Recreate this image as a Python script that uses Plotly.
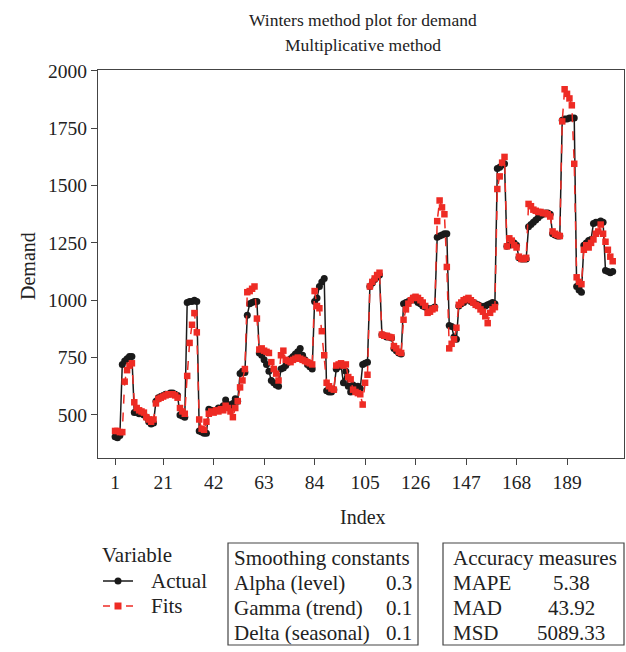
import plotly.graph_objects as go

# ---------------- data ----------------
actual = [
    405, 400, 410, 720, 735, 745, 755, 755,
    510, 510, 505, 505, 500, 490, 470, 460, 465,
    560, 575, 580, 585, 590, 590, 595, 595, 590, 585,
    500, 495, 490,
    990, 995, 995, 1000, 995,
    430, 425, 420, 420,
    525, 520, 515, 520, 530, 525, 540, 565, 545, 530, 550, 570, 560,
    680, 690, 685,
    935, 985, 990, 995, 995,
    770, 760, 740, 720, 690, 650, 640, 630, 625, 700, 705,
    715, 730, 745, 755, 765, 775, 790, 760, 740, 720, 710, 700,
    995, 1010, 1060, 1080, 1095,
    605, 600, 600, 610,
    700, 710, 715, 640, 690, 625, 600, 630, 620, 625, 615, 720, 725, 730,
    1060, 1075, 1090, 1100, 1110,
    850, 845, 840, 840, 835, 790, 780, 770, 765,
    985, 990, 995, 1000, 1010, 1000, 990, 985, 975, 970, 965, 960, 965, 970,
    1275, 1280, 1285, 1290, 1290,
    890, 885, 840, 830,
    975, 985, 990, 1000, 1005, 995, 990, 985, 980, 975, 970, 975, 980, 985, 990, 985,
    1575, 1580, 1590, 1595,
    1235, 1240, 1245, 1250, 1240, 1185, 1180, 1180, 1180,
    1320, 1330, 1340, 1350, 1360, 1370, 1375, 1380, 1380, 1375,
    1290, 1285, 1280, 1280,
    1785, 1790, 1790, 1795, 1795, 1795,
    1060, 1045, 1035,
    1240, 1250, 1260, 1265,
    1335, 1340, 1340, 1345, 1340,
    1130, 1125, 1120, 1125,
]

fits = [
    430, 430, 425, 425,
    645, 695, 715, 725,
    555, 530, 520, 515, 510, 490, 480, 470, 480,
    550, 570, 575, 580, 585, 590, 590, 590, 585, 575,
    530, 515, 505,
    670, 814, 893, 944, 860,
    480, 440, 435, 470,
    505, 515, 510, 520, 515, 525, 520, 540, 530, 515, 490, 530, 560,
    620, 650, 700,
    1035, 1040, 1050, 1060, 920,
    785, 790, 780, 775, 770, 730, 700, 680, 650, 760, 780,
    740, 735, 730, 740, 745, 750, 745, 740, 735, 730, 725, 720,
    1040, 975, 965, 865, 760,
    640, 625, 615, 610,
    715, 720, 725, 715, 720, 665, 655, 610, 600, 595, 590, 545, 640, 675,
    1060, 1080, 1095, 1110, 1120,
    850, 845, 845, 840, 838, 800, 790, 775, 770,
    915, 960, 985, 1000, 1010, 1015, 1010, 1000, 990, 975, 945, 950, 960, 965,
    1345, 1435, 1405, 1375, 1145,
    790, 810, 830, 880,
    980, 990, 1000, 1005, 1010, 1000, 990, 980, 975, 960, 950, 930, 900, 945, 960, 970,
    1485, 1540, 1600, 1625,
    1235, 1270, 1260, 1240, 1230, 1190, 1180, 1180, 1185,
    1420, 1410, 1395, 1390, 1385, 1385, 1380, 1380, 1375, 1365,
    1300, 1290, 1285, 1280,
    1780, 1920, 1900, 1880, 1850, 1595,
    1100, 1080, 1070,
    1220, 1240, 1230, 1250,
    1265, 1290, 1300, 1330, 1290,
    1255, 1220, 1190, 1170,
]

index = list(range(1, len(actual) + 1))
x_ticks = [1, 21, 42, 63, 84, 105, 126, 147, 168, 189]
y_ticks = [500, 750, 1000, 1250, 1500, 1750, 2000]

series_names = ["Actual", "Fits"]
smoothing_labels = ["Alpha (level)", "Gamma (trend)", "Delta (seasonal)"]
smoothing_values = ["0.3", "0.1", "0.1"]
accuracy_labels = ["MAPE", "MAD", "MSD"]
accuracy_values = ["5.38", "43.92", "5089.33"]

# ---------------- layout helpers ----------------
FONT = "Liberation Serif"
FS_TITLE = 17.5
FS_TICK = 19.5
FS_AXT = 20
FS_BOT = 21
L, R, T, B = 98, 624, 70, 458
W, H = R - L, B - T


def px(x):
    return (x - L) / W


def py(y):
    return (B - y) / H


RED = "#ee2b24"
BLACK = "#1a1a1a"
TXT = "#222"

fig = go.Figure()
fig.add_trace(go.Scatter(
    x=index, y=actual, name=series_names[0], mode="lines+markers",
    line=dict(color=BLACK, width=1.5),
    marker=dict(symbol="circle", size=7, color=BLACK),
))
fig.add_trace(go.Scatter(
    x=index, y=fits, name=series_names[1], mode="lines+markers",
    line=dict(color=RED, width=1.5, dash="dash"),
    marker=dict(symbol="square", size=6.5, color=RED),
))

axis_common = dict(
    showgrid=False, zeroline=False, showline=True, linecolor="#444",
    linewidth=1.2, mirror=True, ticks="outside", ticklen=6, tickwidth=1.2,
    tickcolor="#444", tickfont=dict(family=FONT, size=FS_TICK, color=TXT),
)

fig.update_layout(
    width=626, height=652,
    margin=dict(l=L, r=626 - R, t=T, b=652 - B),
    paper_bgcolor="white", plot_bgcolor="white",
    font=dict(family=FONT, size=FS_BOT, color=TXT),
    xaxis=dict(range=[-6.1, 212.7], tickvals=x_ticks, **axis_common),
    yaxis=dict(range=[312, 2004], tickvals=y_ticks, **axis_common),
    showlegend=False,
)

ann = []
ann.append(dict(text="Winters method plot for demand", x=px(363), y=py(20),
                xanchor="center", yanchor="middle", size=FS_TITLE))
ann.append(dict(text="Multiplicative method", x=px(363), y=py(45),
                xanchor="center", yanchor="middle", size=FS_TITLE))
ann.append(dict(text="Index", x=px(363), y=py(517), xanchor="center", yanchor="middle",
                size=FS_AXT))
ann.append(dict(text="Demand", x=px(28), y=py(266), xanchor="center", yanchor="middle",
                textangle=-90, size=FS_AXT))

# legend (drawn as text + shapes)
ann.append(dict(text="Variable", x=px(100), y=py(555), xanchor="left", yanchor="middle",
                size=FS_BOT))
ann.append(dict(text=series_names[0], x=px(149), y=py(581), xanchor="left",
                yanchor="middle", size=FS_BOT))
ann.append(dict(text=series_names[1], x=px(149), y=py(606), xanchor="left",
                yanchor="middle", size=FS_BOT))

row_y = [583, 608, 633]
ann.append(dict(text="Smoothing constants", x=px(232), y=py(558), xanchor="left",
                yanchor="middle", size=FS_BOT))
for lab, val, yy in zip(smoothing_labels, smoothing_values, row_y):
    ann.append(dict(text=lab, x=px(232), y=py(yy), xanchor="left", yanchor="middle", size=FS_BOT))
    ann.append(dict(text=val, x=px(414), y=py(yy), xanchor="right", yanchor="middle", size=FS_BOT))

ann.append(dict(text="Accuracy measures", x=px(451), y=py(558), xanchor="left",
                yanchor="middle", size=FS_BOT))
for lab, val, yy in zip(accuracy_labels, accuracy_values, row_y):
    ann.append(dict(text=lab, x=px(451), y=py(yy), xanchor="left", yanchor="middle", size=FS_BOT))
    ann.append(dict(text=val, x=px(571), y=py(yy), xanchor="center", yanchor="middle", size=FS_BOT))

final_ann = []
for a in ann:
    s = a.pop("size")
    a.update(xref="paper", yref="paper", showarrow=False,
             font=dict(family=FONT, size=s, color=TXT))
    final_ann.append(a)
fig.update_layout(annotations=final_ann)


def pline(x0, x1, y, color, dash="solid"):
    return dict(type="line", xref="paper", yref="paper", x0=px(x0), x1=px(x1),
                y0=py(y), y1=py(y), line=dict(color=color, width=1.5, dash=dash))


shapes = [
    dict(type="rect", xref="paper", yref="paper", x0=px(228), x1=px(418),
         y0=py(645), y1=py(543), line=dict(color="#444", width=1.2)),
    dict(type="rect", xref="paper", yref="paper", x0=px(443), x1=px(624),
         y0=py(645), y1=py(543), line=dict(color="#444", width=1.2)),
    # Actual legend key
    pline(103, 133, 581, BLACK),
    dict(type="circle", xref="paper", yref="paper", x0=px(114.5), x1=px(121.5),
         y0=py(584.5), y1=py(577.5), fillcolor=BLACK, line=dict(color=BLACK, width=0)),
    # Fits legend key
    pline(103, 110, 606, RED),
    pline(126, 133, 606, RED),
    dict(type="rect", xref="paper", yref="paper", x0=px(114.5), x1=px(121.5),
         y0=py(609.5), y1=py(602.5), fillcolor=RED, line=dict(color=RED, width=0)),
]
fig.update_layout(shapes=shapes)

fig.write_html("out.html")
